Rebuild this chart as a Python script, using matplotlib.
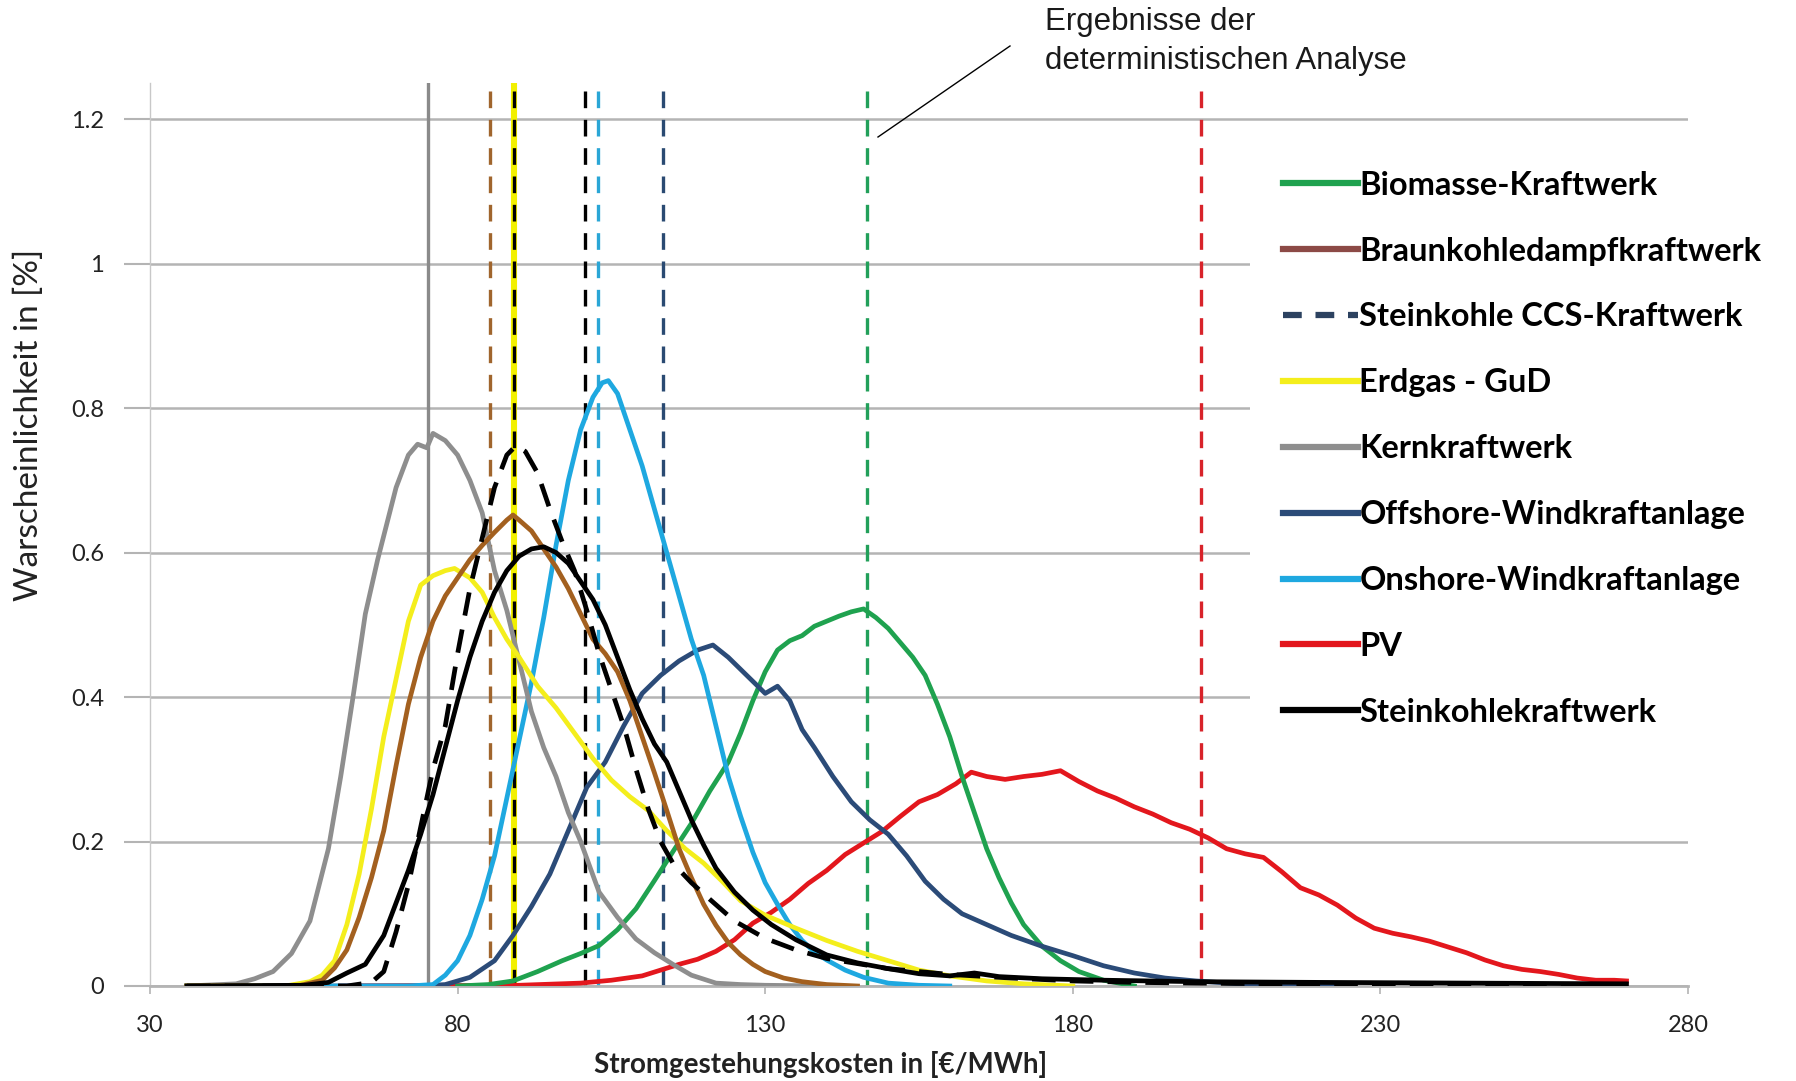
import matplotlib.pyplot as plt
from matplotlib.lines import Line2D

plt.rcParams['font.family'] = ['Lato', 'DejaVu Sans']

# Verteilungen der Stromgestehungskosten (Monte-Carlo), Werte in %
x_bio = [80, 85, 89, 93, 97, 100, 103, 106, 109, 112, 115, 118, 121, 124, 126, 128, 130, 132, 134, 136,
         138, 140, 142, 144, 146, 148, 150, 152, 154, 156, 158, 160, 162, 164, 166, 168, 170, 172, 175,
         178, 181, 185, 190]
y_bio = [0, 0.002, 0.007, 0.02, 0.035, 0.045, 0.056, 0.078, 0.107, 0.146, 0.186, 0.225, 0.27, 0.31, 0.35,
         0.395, 0.435, 0.465, 0.478, 0.485, 0.498, 0.505, 0.512, 0.518, 0.522, 0.51, 0.495, 0.475, 0.455,
         0.43, 0.39, 0.345, 0.29, 0.24, 0.19, 0.15, 0.115, 0.085, 0.055, 0.035, 0.02, 0.008, 0]

x_braun = [36, 54, 58, 60, 62, 64, 66, 68, 70, 72, 74, 76, 78, 80, 82, 84, 86, 88, 89, 90, 92, 94, 96, 98,
           100, 102, 104, 106, 108, 110, 112, 114, 116, 118, 120, 122, 124, 126, 128, 130, 133, 136, 140, 145]
y_braun = [0, 0, 0.008, 0.025, 0.05, 0.095, 0.15, 0.215, 0.305, 0.39, 0.455, 0.505, 0.54, 0.565, 0.59, 0.61,
           0.628, 0.645, 0.652, 0.645, 0.63, 0.605, 0.58, 0.55, 0.515, 0.48, 0.46, 0.435, 0.395, 0.345,
           0.295, 0.243, 0.19, 0.15, 0.113, 0.084, 0.06, 0.043, 0.03, 0.02, 0.011, 0.006, 0.002, 0]

x_ccs = [36, 62, 66, 68, 70, 72, 74, 76, 78, 80, 82, 84, 86, 88, 89.5, 91, 93, 95, 97, 99, 101, 103, 105,
         107, 109, 111, 113, 115, 118, 121, 125, 130, 135, 140, 150, 160, 170, 180, 190, 200, 215, 230,
         250, 270]
y_ccs = [0, 0, 0.005, 0.02, 0.075, 0.14, 0.22, 0.3, 0.36, 0.46, 0.55, 0.62, 0.69, 0.735, 0.748, 0.74, 0.71,
         0.66, 0.615, 0.575, 0.52, 0.46, 0.41, 0.36, 0.3, 0.245, 0.2, 0.17, 0.143, 0.12, 0.09, 0.066, 0.05,
         0.038, 0.024, 0.016, 0.011, 0.007, 0.005, 0.004, 0.003, 0.002, 0.001, 0]

x_gas = [36, 52, 56, 58, 60, 62, 64, 66, 68, 70, 72, 74, 76, 78, 79.5, 82, 84, 86, 88, 90, 93, 96, 99, 102,
         105, 108, 111, 114, 117, 120, 123, 126, 130, 135, 140, 145, 150, 155, 160, 166, 172, 180]
y_gas = [0, 0, 0.006, 0.015, 0.035, 0.085, 0.155, 0.245, 0.345, 0.425, 0.505, 0.555, 0.568, 0.575, 0.578,
         0.565, 0.545, 0.51, 0.48, 0.455, 0.415, 0.385, 0.35, 0.315, 0.285, 0.262, 0.243, 0.215, 0.19,
         0.17, 0.145, 0.118, 0.098, 0.08, 0.063, 0.048, 0.035, 0.022, 0.014, 0.007, 0.003, 0]

x_kern = [36, 44, 47, 50, 53, 56, 59, 61, 63, 65, 67, 68.5, 70, 72, 73.5, 75, 76, 78, 80, 82, 84, 86, 88,
          90, 92, 94, 96, 98, 100, 103, 106, 109, 112, 115, 118, 122, 126, 130, 140]
y_kern = [0, 0.003, 0.01, 0.02, 0.045, 0.09, 0.19, 0.29, 0.4, 0.515, 0.59, 0.64, 0.69, 0.735, 0.75, 0.745,
          0.765, 0.755, 0.735, 0.7, 0.655, 0.575, 0.52, 0.45, 0.38, 0.33, 0.29, 0.24, 0.2, 0.13, 0.095,
          0.065, 0.046, 0.03, 0.015, 0.004, 0.002, 0.001, 0]

x_off = [36, 74, 78, 82, 86, 89, 92, 95, 98, 101, 104, 107, 110, 113, 116, 119, 121.5, 124, 127, 130, 132,
         134, 136, 138, 141, 144, 147, 150, 153, 156, 159, 162, 166, 170, 175, 180, 185, 190, 195, 200,
         207, 215, 225]
y_off = [0, 0, 0.002, 0.012, 0.035, 0.07, 0.11, 0.155, 0.215, 0.275, 0.31, 0.36, 0.405, 0.43, 0.45, 0.465,
         0.472, 0.455, 0.43, 0.405, 0.415, 0.395, 0.355, 0.33, 0.29, 0.255, 0.23, 0.21, 0.18, 0.145, 0.12,
         0.1, 0.085, 0.07, 0.055, 0.042, 0.028, 0.018, 0.011, 0.007, 0.003, 0.001, 0]

x_on = [36, 72, 76, 78, 80, 82, 84, 86, 88, 90, 92, 94, 96, 98, 100, 102, 103.5, 104.5, 106, 108, 110, 112,
        114, 116, 118, 120, 122, 124, 126, 128, 130, 132, 134, 136, 138, 140, 143, 146, 150, 155, 160]
y_on = [0, 0, 0.002, 0.015, 0.035, 0.07, 0.12, 0.18, 0.26, 0.34, 0.42, 0.51, 0.61, 0.7, 0.77, 0.815, 0.835,
        0.838, 0.82, 0.77, 0.72, 0.66, 0.6, 0.54, 0.48, 0.43, 0.36, 0.29, 0.235, 0.185, 0.143, 0.113,
        0.085, 0.063, 0.047, 0.036, 0.022, 0.012, 0.004, 0.001, 0]

x_pv = [61, 90, 100, 105, 110, 113, 116, 119, 122, 125, 128, 131, 134, 137, 140, 143, 146, 149, 152, 155,
        158, 161, 163.5, 166, 169, 172, 175, 178, 181, 184, 187, 190, 193, 196, 199, 202, 205, 208, 211,
        214, 217, 220, 223, 226, 229, 232, 235, 238, 241, 244, 247, 250, 253, 256, 259, 262, 265, 268, 270]
y_pv = [0, 0.001, 0.004, 0.008, 0.014, 0.022, 0.03, 0.037, 0.048, 0.064, 0.087, 0.102, 0.12, 0.142, 0.16,
        0.182, 0.198, 0.214, 0.235, 0.255, 0.265, 0.28, 0.296, 0.29, 0.286, 0.29, 0.293, 0.298, 0.283,
        0.27, 0.26, 0.248, 0.238, 0.226, 0.217, 0.205, 0.19, 0.183, 0.178, 0.158, 0.136, 0.126, 0.112,
        0.094, 0.08, 0.073, 0.068, 0.062, 0.054, 0.046, 0.036, 0.028, 0.023, 0.02, 0.016, 0.011, 0.008,
        0.008, 0.007]

x_stein = [36, 55, 59, 62, 65, 68, 70, 72, 74, 76, 78, 80, 82, 84, 86, 88, 90, 92, 94, 96, 98, 100, 102,
           104, 106, 108, 110, 112, 114, 116, 118, 120, 122, 125, 128, 131, 135, 140, 145, 150, 155, 160,
           164, 168, 175, 185, 200, 220, 245, 270]
y_stein = [0, 0.001, 0.005, 0.018, 0.03, 0.07, 0.115, 0.16, 0.21, 0.265, 0.33, 0.395, 0.455, 0.505, 0.545,
           0.575, 0.595, 0.605, 0.608, 0.6, 0.585, 0.56, 0.535, 0.5, 0.455, 0.41, 0.37, 0.335, 0.31, 0.27,
           0.23, 0.195, 0.163, 0.13, 0.105, 0.085, 0.064, 0.043, 0.032, 0.024, 0.017, 0.014, 0.018, 0.013,
           0.01, 0.008, 0.006, 0.005, 0.004, 0.003]

# Ergebnisse der deterministischen Analyse (EUR/MWh)
det_kern = 75.2
det_braun = 85.3
det_gas = 89.2
det_ccs = 89.2
det_stein = 100.7
det_on = 102.8
det_off = 113.4
det_bio = 146.5
det_pv = 200.9

legend_labels = ['Biomasse-Kraftwerk', 'Braunkohledampfkraftwerk', 'Steinkohle CCS-Kraftwerk',
                 'Erdgas - GuD', 'Kernkraftwerk', 'Offshore-Windkraftanlage',
                 'Onshore-Windkraftanlage', 'PV', 'Steinkohlekraftwerk']

c_bio = '#1fa24f'
c_braun = '#a3601f'
c_gas = '#f4ee1c'
c_kern = '#8e8e8e'
c_off = '#2b4b78'
c_on = '#1ea8e0'
c_pv = '#e3171d'
c_ccs_leg = '#2c4260'

fig = plt.figure(figsize=(17.96, 10.81), dpi=100)
ax = fig.add_axes([150 / 1796, 1 - 986 / 1081, 1538 / 1796, 903 / 1081])

# senkrechte Linien: deterministische Werte
dash = (5, 3.5)
vl = 2.4
ax.axvline(det_kern, color='#8a8a8a', lw=vl, zorder=2)
ax.axvline(det_braun, color='#a0652d', lw=vl, ls=(0, dash), zorder=2)
ax.axvline(det_gas, color='#f2f000', lw=vl + 2.0, zorder=2)
ax.axvline(det_ccs, color='black', lw=vl, ls=(0, dash), zorder=2)
ax.axvline(det_stein, color='black', lw=vl, ls=(0, dash), zorder=2)
ax.axvline(det_on, color='#2aa6d6', lw=vl, ls=(0, dash), zorder=2)
ax.axvline(det_off, color='#2a4a72', lw=vl, ls=(0, dash), zorder=2)
ax.axvline(det_bio, color='#22a05a', lw=vl, ls=(0, dash), zorder=2)
ax.axvline(det_pv, color='#d8232a', lw=vl, ls=(0, dash), zorder=2)

lw = 3.4
ax.plot(x_pv, y_pv, color=c_pv, lw=lw, zorder=3)
ax.plot(x_bio, y_bio, color=c_bio, lw=lw, zorder=3)
ax.plot(x_off, y_off, color=c_off, lw=lw, zorder=3)
ax.plot(x_on, y_on, color=c_on, lw=lw, zorder=3)
ax.plot(x_kern, y_kern, color=c_kern, lw=lw, zorder=3)
ax.plot(x_gas, y_gas, color=c_gas, lw=lw, zorder=3)
ax.plot(x_braun, y_braun, color=c_braun, lw=lw, zorder=3)
ax.plot(x_ccs, y_ccs, color='black', lw=lw, ls=(0, (5, 3)), zorder=4)
ax.plot(x_stein, y_stein, color='black', lw=lw, zorder=4)

ax.set_xlim(30, 280)
ax.set_ylim(0, 1.25)
ax.set_xticks([30, 80, 130, 180, 230, 280])
ax.set_yticks([0, 0.2, 0.4, 0.6, 0.8, 1.0, 1.2])
ax.set_yticklabels(['0', '0.2', '0.4', '0.6', '0.8', '1', '1.2'])
ax.yaxis.grid(True, color='#b4b4b4', lw=1.8)
ax.set_axisbelow(True)
ax.tick_params(axis='y', length=19, width=1.5, color='#b4b4b4', pad=14, labelsize=17, labelcolor='#222222')
ax.tick_params(axis='x', length=6, width=1.2, color='#b4b4b4', pad=15, labelsize=17, labelcolor='#222222')
for s in ['top', 'right']:
    ax.spines[s].set_visible(False)
ax.spines['left'].set_color('#c8c8c8')
ax.spines['left'].set_linewidth(1.0)
ax.spines['bottom'].set_color('#b4b4b4')
ax.spines['bottom'].set_linewidth(2.0)

fig.text(0.016, 1 - 425 / 1081, 'Warscheinlichkeit in [%]', rotation=90, ha='center', va='center',
         fontsize=24, color='#222222')
fig.text(821 / 1796, 1 - 1065 / 1081, 'Stromgestehungskosten in [€/MWh]', ha='center', va='center',
         fontsize=20, fontweight='bold', color='#222222')

# Legende
handles = [
    Line2D([], [], color=c_bio, lw=4.5),
    Line2D([], [], color='#8c4a46', lw=4.5),
    Line2D([], [], color=c_ccs_leg, lw=4.5, ls=(0, (3, 2.2))),
    Line2D([], [], color=c_gas, lw=4.5),
    Line2D([], [], color=c_kern, lw=4.5),
    Line2D([], [], color=c_off, lw=4.5),
    Line2D([], [], color=c_on, lw=4.5),
    Line2D([], [], color=c_pv, lw=4.5),
    Line2D([], [], color='black', lw=4.5),
]
leg = fig.legend(handles, legend_labels, loc='upper left', bbox_to_anchor=(1250 / 1796, 1 - 138 / 1081),
                 prop={'family': ['Lato', 'DejaVu Sans'], 'weight': 'bold', 'size': 23.5},
                 handlelength=2.3, handletextpad=0.05, labelspacing=1.13, borderpad=1.0, borderaxespad=0,
                 frameon=True, fancybox=False, facecolor='white', edgecolor='none', framealpha=1)
leg.set_zorder(5)

# Hinweis auf die deterministischen Ergebnisse
fig.text(1045 / 1796, 1 - 22 / 1081, 'Ergebnisse der', ha='left', va='center', fontsize=22.5,
         family=['Liberation Sans', 'DejaVu Sans'], color='#1a1a1a')
fig.text(1045 / 1796, 1 - 61 / 1081, 'deterministischen Analyse', ha='left', va='center', fontsize=22.5,
         family=['Liberation Sans', 'DejaVu Sans'], color='#1a1a1a')
fig.add_artist(Line2D([1010 / 1796, 878 / 1796], [1 - 46 / 1081, 1 - 137 / 1081], color='black', lw=1.0))

fig.savefig('out.png', dpi=100)
